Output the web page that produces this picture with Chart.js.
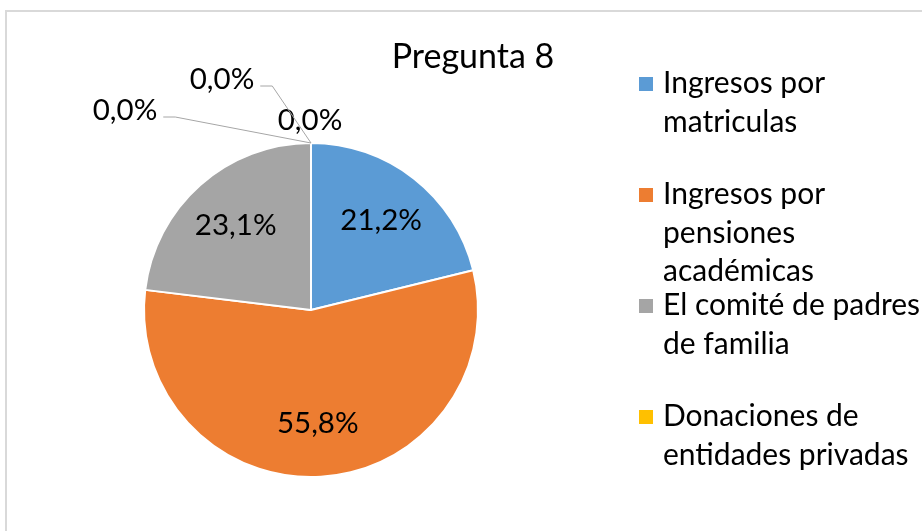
<!DOCTYPE html>
<html>
<head>
<meta charset="utf-8">
<script src="https://cdn.jsdelivr.net/npm/chart.js@4.4.0/dist/chart.umd.min.js"></script>
<style>
    body { margin: 0; background: #fff; }
    #frame { position: absolute; left: 5px; top: 10px; width: 1000px; height: 600px; border: 2px solid #d9d9d9; }
    canvas { position: absolute; left: 0; top: 0; }
</style>
</head>
<body>
<div id="frame"></div>
<canvas id="myChart" width="922" height="531"></canvas>
<script>
// Data
const chartTitle = "Pregunta 8";
const categories = [
    ["Ingresos por", "matriculas"],
    ["Ingresos por", "pensiones", "académicas"],
    ["El comité de padres", "de familia"],
    ["Donaciones de", "entidades privadas"],
    [""],
    [""]
];
const percentages = [21.2, 55.8, 23.1, 0.0, 0.0, 0.0];
const sliceColors = ["#5B9BD5", "#ED7D31", "#A5A5A5", "#FFC000", "#4472C4", "#70AD47"];
const legendCount = 4; // only the first four entries fit in the legend

const fontFamily = "Lato, 'Noto Sans', sans-serif";

function formatPct(v) {
    return v.toFixed(1).replace(".", ",") + "%";
}

// where the 0,0% labels sit, relative to the top of the pie
const zeroLabelSpots = [
    { dx: -1, dy: -23, leader: false },
    { dx: -89, dy: -64, leader: true },
    { dx: -186, dy: -33, leader: true }
];

const labelPlugin = {
    id: "pieLabels",
    afterDatasetsDraw(chart) {
        const ctx = chart.ctx;
        const meta = chart.getDatasetMeta(0);
        const values = chart.data.datasets[0].data;
        ctx.save();
        ctx.font = "29.5px " + fontFamily;
        ctx.fillStyle = "#000";
        ctx.textAlign = "center";
        ctx.textBaseline = "middle";
        let zeroIndex = 0;
        meta.data.forEach((arc, i) => {
            const p = arc.getProps(["x", "y", "startAngle", "endAngle", "outerRadius"], true);
            const text = formatPct(values[i]);
            if (values[i] > 0) {
                const mid = (p.startAngle + p.endAngle) / 2;
                const r = p.outerRadius * 0.68;
                ctx.fillText(text, p.x + Math.cos(mid) * r, p.y + Math.sin(mid) * r);
            } else {
                const ax = p.x + Math.cos(p.startAngle) * p.outerRadius;
                const ay = p.y + Math.sin(p.startAngle) * p.outerRadius;
                const spot = zeroLabelSpots[zeroIndex++];
                const lx = ax + spot.dx;
                const ly = ay + spot.dy;
                ctx.fillText(text, lx, ly);
                if (spot.leader) {
                    const w = ctx.measureText(text).width;
                    const sx = lx + w / 2 + 6;
                    const sy = ly + 7;
                    ctx.beginPath();
                    ctx.strokeStyle = "#a6a6a6";
                    ctx.lineWidth = 1;
                    ctx.moveTo(sx, sy);
                    ctx.lineTo(sx + 12, sy);
                    ctx.lineTo(ax, ay);
                    ctx.stroke();
                }
            }
        });

        // title
        ctx.font = "34px " + fontFamily;
        ctx.textBaseline = "alphabetic";
        ctx.fillText(chartTitle, 473, 68);

        // legend
        ctx.textAlign = "left";
        ctx.font = "30px " + fontFamily;
        for (let i = 0; i < legendCount; i++) {
            const baseY = 93 + i * 111;
            ctx.fillStyle = sliceColors[i];
            ctx.fillRect(639, baseY - 16, 14, 14);
            ctx.fillStyle = "#000";
            chart.data.labels[i].forEach((line, j) => {
                ctx.fillText(line, 663, baseY + j * 38.5);
            });
        }
        ctx.restore();
    }
};

const canvas = document.getElementById("myChart");
const chart = new Chart(canvas.getContext("2d"), {
    type: "pie",
    data: {
        labels: categories,
        datasets: [{
            data: percentages,
            backgroundColor: sliceColors,
            borderColor: "#ffffff",
            borderWidth: 2
        }]
    },
    options: {
        responsive: false,
        animation: false,
        layout: {
            padding: { left: 143, top: 142, right: 443, bottom: 53 }
        },
        plugins: {
            legend: { display: false },
            title: { display: false },
            tooltip: { enabled: false }
        }
    },
    plugins: [labelPlugin]
});
</script>
</body>
</html>
